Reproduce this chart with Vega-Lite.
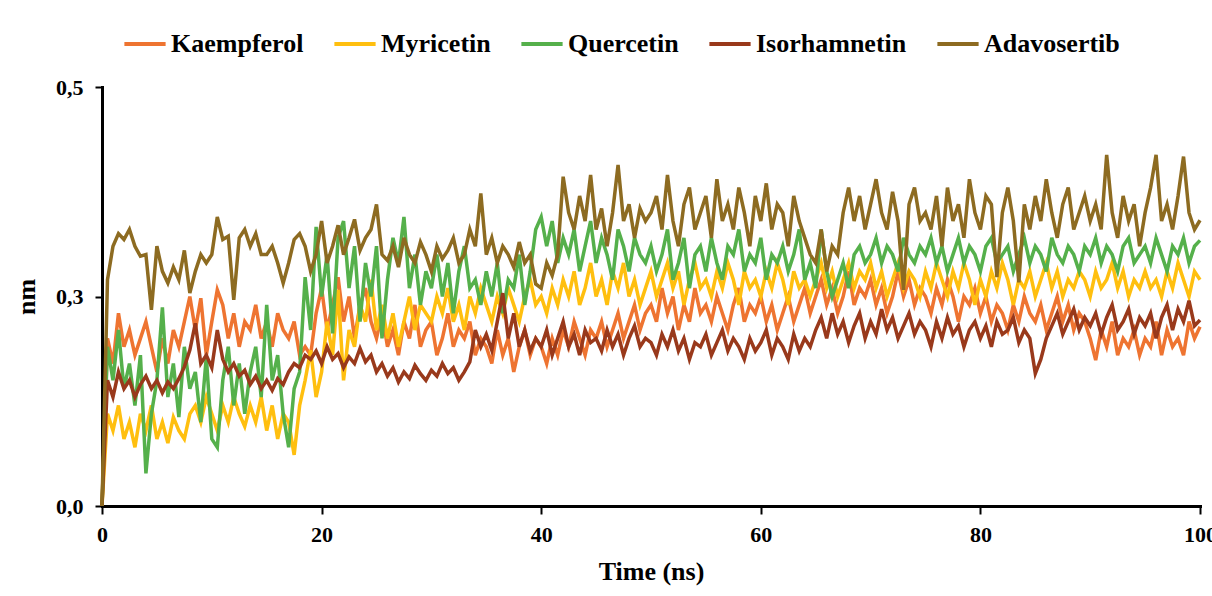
{
"$schema":"https://vega.github.io/schema/vega-lite/v6.json",
"width":1098,"height":419,
"autosize":"none",
"padding":{"left":102,"top":87,"right":12,"bottom":90},
"background":"white",
"datasets":{
"A":[{"t":0,"v":0},{"t":0.5,"v":0.27},{"t":1,"v":0.31},{"t":1.5,"v":0.325},{"t":2,"v":0.318},{"t":2.5,"v":0.33},{"t":3,"v":0.31},{"t":3.5,"v":0.298},{"t":4,"v":0.3},{"t":4.5,"v":0.234},
{"t":5,"v":0.31},{"t":5.5,"v":0.28},{"t":6,"v":0.266},{"t":6.5,"v":0.285},{"t":7,"v":0.27},{"t":7.5,"v":0.305},{"t":8,"v":0.254},{"t":8.5,"v":0.28},{"t":9,"v":0.3},{"t":9.5,"v":0.29},
{"t":10,"v":0.3},{"t":10.5,"v":0.345},{"t":11,"v":0.318},{"t":11.5,"v":0.322},{"t":12,"v":0.246},{"t":12.5,"v":0.32},{"t":13,"v":0.33},{"t":13.5,"v":0.31},{"t":14,"v":0.325},{"t":14.5,"v":0.3},
{"t":15,"v":0.3},{"t":15.5,"v":0.31},{"t":16,"v":0.29},{"t":16.5,"v":0.266},{"t":17,"v":0.29},{"t":17.5,"v":0.318},{"t":18,"v":0.325},{"t":18.5,"v":0.31},{"t":19,"v":0.28},{"t":19.5,"v":0.3},
{"t":20,"v":0.34},{"t":20.5,"v":0.29},{"t":21,"v":0.31},{"t":21.5,"v":0.335},{"t":22,"v":0.3},{"t":22.5,"v":0.32},{"t":23,"v":0.342},{"t":23.5,"v":0.305},{"t":24,"v":0.32},{"t":24.5,"v":0.33},
{"t":25,"v":0.36},{"t":25.5,"v":0.3},{"t":26,"v":0.293},{"t":26.5,"v":0.31},{"t":27,"v":0.285},{"t":27.5,"v":0.32},{"t":28,"v":0.3},{"t":28.5,"v":0.29},{"t":29,"v":0.315},{"t":29.5,"v":0.3},
{"t":30,"v":0.28},{"t":30.5,"v":0.31},{"t":31,"v":0.295},{"t":31.5,"v":0.305},{"t":32,"v":0.32},{"t":32.5,"v":0.29},{"t":33,"v":0.3},{"t":33.5,"v":0.33},{"t":34,"v":0.31},{"t":34.5,"v":0.373},
{"t":35,"v":0.3},{"t":35.5,"v":0.32},{"t":36,"v":0.29},{"t":36.5,"v":0.31},{"t":37,"v":0.3},{"t":37.5,"v":0.285},{"t":38,"v":0.315},{"t":38.5,"v":0.29},{"t":39,"v":0.3},{"t":39.5,"v":0.265},
{"t":40,"v":0.26},{"t":40.5,"v":0.29},{"t":41,"v":0.275},{"t":41.5,"v":0.3},{"t":42,"v":0.393},{"t":42.5,"v":0.35},{"t":43,"v":0.33},{"t":43.5,"v":0.37},{"t":44,"v":0.34},{"t":44.5,"v":0.395},
{"t":45,"v":0.33},{"t":45.5,"v":0.355},{"t":46,"v":0.31},{"t":46.5,"v":0.35},{"t":47,"v":0.407},{"t":47.5,"v":0.34},{"t":48,"v":0.36},{"t":48.5,"v":0.32},{"t":49,"v":0.355},{"t":49.5,"v":0.34},
{"t":50,"v":0.35},{"t":50.5,"v":0.37},{"t":51,"v":0.33},{"t":51.5,"v":0.395},{"t":52,"v":0.34},{"t":52.5,"v":0.31},{"t":53,"v":0.36},{"t":53.5,"v":0.38},{"t":54,"v":0.33},{"t":54.5,"v":0.35},
{"t":55,"v":0.37},{"t":55.5,"v":0.32},{"t":56,"v":0.39},{"t":56.5,"v":0.34},{"t":57,"v":0.36},{"t":57.5,"v":0.33},{"t":58,"v":0.38},{"t":58.5,"v":0.35},{"t":59,"v":0.31},{"t":59.5,"v":0.37},
{"t":60,"v":0.34},{"t":60.5,"v":0.385},{"t":61,"v":0.33},{"t":61.5,"v":0.36},{"t":62,"v":0.35},{"t":62.5,"v":0.31},{"t":63,"v":0.37},{"t":63.5,"v":0.34},{"t":64,"v":0.32},{"t":64.5,"v":0.3},
{"t":65,"v":0.29},{"t":65.5,"v":0.33},{"t":66,"v":0.28},{"t":66.5,"v":0.31},{"t":67,"v":0.3},{"t":67.5,"v":0.35},{"t":68,"v":0.38},{"t":68.5,"v":0.34},{"t":69,"v":0.37},{"t":69.5,"v":0.33},
{"t":70,"v":0.36},{"t":70.5,"v":0.39},{"t":71,"v":0.35},{"t":71.5,"v":0.33},{"t":72,"v":0.375},{"t":72.5,"v":0.34},{"t":73,"v":0.258},{"t":73.5,"v":0.36},{"t":74,"v":0.38},{"t":74.5,"v":0.34},
{"t":75,"v":0.35},{"t":75.5,"v":0.33},{"t":76,"v":0.37},{"t":76.5,"v":0.31},{"t":77,"v":0.38},{"t":77.5,"v":0.34},{"t":78,"v":0.36},{"t":78.5,"v":0.32},{"t":79,"v":0.39},{"t":79.5,"v":0.35},
{"t":80,"v":0.33},{"t":80.5,"v":0.37},{"t":81,"v":0.36},{"t":81.5,"v":0.273},{"t":82,"v":0.35},{"t":82.5,"v":0.38},{"t":83,"v":0.34},{"t":83.5,"v":0.267},{"t":84,"v":0.36},{"t":84.5,"v":0.33},
{"t":85,"v":0.37},{"t":85.5,"v":0.34},{"t":86,"v":0.39},{"t":86.5,"v":0.35},{"t":87,"v":0.32},{"t":87.5,"v":0.36},{"t":88,"v":0.38},{"t":88.5,"v":0.33},{"t":89,"v":0.35},{"t":89.5,"v":0.37},
{"t":90,"v":0.34},{"t":90.5,"v":0.36},{"t":91,"v":0.33},{"t":91.5,"v":0.419},{"t":92,"v":0.35},{"t":92.5,"v":0.32},{"t":93,"v":0.37},{"t":93.5,"v":0.34},{"t":94,"v":0.36},{"t":94.5,"v":0.31},
{"t":95,"v":0.35},{"t":95.5,"v":0.38},{"t":96,"v":0.419},{"t":96.5,"v":0.34},{"t":97,"v":0.36},{"t":97.5,"v":0.33},{"t":98,"v":0.37},{"t":98.5,"v":0.417},{"t":99,"v":0.35},{"t":99.5,"v":0.33},
{"t":100,"v":0.341}],
"Q":[{"t":0,"v":0},{"t":0.5,"v":0.19},{"t":1,"v":0.15},{"t":1.5,"v":0.21},{"t":2,"v":0.14},{"t":2.5,"v":0.17},{"t":3,"v":0.12},{"t":3.5,"v":0.18},{"t":4,"v":0.039},{"t":4.5,"v":0.11},
{"t":5,"v":0.15},{"t":5.5,"v":0.237},{"t":6,"v":0.13},{"t":6.5,"v":0.17},{"t":7,"v":0.106},{"t":7.5,"v":0.19},{"t":8,"v":0.14},{"t":8.5,"v":0.16},{"t":9,"v":0.1},{"t":9.5,"v":0.178},
{"t":10,"v":0.08},{"t":10.5,"v":0.07},{"t":11,"v":0.15},{"t":11.5,"v":0.19},{"t":12,"v":0.12},{"t":12.5,"v":0.17},{"t":13,"v":0.11},{"t":13.5,"v":0.16},{"t":14,"v":0.19},{"t":14.5,"v":0.13},
{"t":15,"v":0.24},{"t":15.5,"v":0.15},{"t":16,"v":0.18},{"t":16.5,"v":0.11},{"t":17,"v":0.07},{"t":17.5,"v":0.14},{"t":18,"v":0.16},{"t":18.5,"v":0.273},{"t":19,"v":0.21},{"t":19.5,"v":0.333},
{"t":20,"v":0.25},{"t":20.5,"v":0.3},{"t":21,"v":0.206},{"t":21.5,"v":0.32},{"t":22,"v":0.34},{"t":22.5,"v":0.26},{"t":23,"v":0.31},{"t":23.5,"v":0.22},{"t":24,"v":0.29},{"t":24.5,"v":0.25},
{"t":25,"v":0.31},{"t":25.5,"v":0.2},{"t":26,"v":0.27},{"t":26.5,"v":0.32},{"t":27,"v":0.29},{"t":27.5,"v":0.345},{"t":28,"v":0.26},{"t":28.5,"v":0.3},{"t":29,"v":0.24},{"t":29.5,"v":0.28},
{"t":30,"v":0.26},{"t":30.5,"v":0.3},{"t":31,"v":0.25},{"t":31.5,"v":0.29},{"t":32,"v":0.23},{"t":32.5,"v":0.28},{"t":33,"v":0.31},{"t":33.5,"v":0.26},{"t":34,"v":0.27},{"t":34.5,"v":0.24},
{"t":35,"v":0.28},{"t":35.5,"v":0.25},{"t":36,"v":0.29},{"t":36.5,"v":0.23},{"t":37,"v":0.27},{"t":37.5,"v":0.26},{"t":38,"v":0.3},{"t":38.5,"v":0.24},{"t":39,"v":0.28},{"t":39.5,"v":0.33},
{"t":40,"v":0.345},{"t":40.5,"v":0.31},{"t":41,"v":0.34},{"t":41.5,"v":0.29},{"t":42,"v":0.32},{"t":42.5,"v":0.3},{"t":43,"v":0.33},{"t":43.5,"v":0.28},{"t":44,"v":0.31},{"t":44.5,"v":0.34},
{"t":45,"v":0.29},{"t":45.5,"v":0.32},{"t":46,"v":0.3},{"t":46.5,"v":0.27},{"t":47,"v":0.33},{"t":47.5,"v":0.31},{"t":48,"v":0.28},{"t":48.5,"v":0.32},{"t":49,"v":0.3},{"t":49.5,"v":0.29},
{"t":50,"v":0.31},{"t":50.5,"v":0.28},{"t":51,"v":0.3},{"t":51.5,"v":0.33},{"t":52,"v":0.27},{"t":52.5,"v":0.29},{"t":53,"v":0.32},{"t":53.5,"v":0.26},{"t":54,"v":0.3},{"t":54.5,"v":0.31},
{"t":55,"v":0.28},{"t":55.5,"v":0.32},{"t":56,"v":0.29},{"t":56.5,"v":0.27},{"t":57,"v":0.31},{"t":57.5,"v":0.3},{"t":58,"v":0.33},{"t":58.5,"v":0.28},{"t":59,"v":0.3},{"t":59.5,"v":0.29},
{"t":60,"v":0.32},{"t":60.5,"v":0.27},{"t":61,"v":0.3},{"t":61.5,"v":0.29},{"t":62,"v":0.31},{"t":62.5,"v":0.28},{"t":63,"v":0.3},{"t":63.5,"v":0.33},{"t":64,"v":0.27},{"t":64.5,"v":0.29},
{"t":65,"v":0.26},{"t":65.5,"v":0.33},{"t":66,"v":0.28},{"t":66.5,"v":0.25},{"t":67,"v":0.27},{"t":67.5,"v":0.29},{"t":68,"v":0.26},{"t":68.5,"v":0.3},{"t":69,"v":0.31},{"t":69.5,"v":0.29},
{"t":70,"v":0.3},{"t":70.5,"v":0.32},{"t":71,"v":0.29},{"t":71.5,"v":0.31},{"t":72,"v":0.3},{"t":72.5,"v":0.28},{"t":73,"v":0.32},{"t":73.5,"v":0.3},{"t":74,"v":0.29},{"t":74.5,"v":0.31},
{"t":75,"v":0.3},{"t":75.5,"v":0.32},{"t":76,"v":0.29},{"t":76.5,"v":0.31},{"t":77,"v":0.28},{"t":77.5,"v":0.3},{"t":78,"v":0.32},{"t":78.5,"v":0.29},{"t":79,"v":0.31},{"t":79.5,"v":0.3},
{"t":80,"v":0.28},{"t":80.5,"v":0.31},{"t":81,"v":0.32},{"t":81.5,"v":0.29},{"t":82,"v":0.3},{"t":82.5,"v":0.31},{"t":83,"v":0.28},{"t":83.5,"v":0.3},{"t":84,"v":0.32},{"t":84.5,"v":0.29},
{"t":85,"v":0.31},{"t":85.5,"v":0.3},{"t":86,"v":0.28},{"t":86.5,"v":0.32},{"t":87,"v":0.3},{"t":87.5,"v":0.29},{"t":88,"v":0.31},{"t":88.5,"v":0.3},{"t":89,"v":0.28},{"t":89.5,"v":0.31},
{"t":90,"v":0.3},{"t":90.5,"v":0.32},{"t":91,"v":0.29},{"t":91.5,"v":0.31},{"t":92,"v":0.3},{"t":92.5,"v":0.28},{"t":93,"v":0.31},{"t":93.5,"v":0.32},{"t":94,"v":0.29},{"t":94.5,"v":0.3},
{"t":95,"v":0.31},{"t":95.5,"v":0.29},{"t":96,"v":0.32},{"t":96.5,"v":0.3},{"t":97,"v":0.28},{"t":97.5,"v":0.31},{"t":98,"v":0.3},{"t":98.5,"v":0.32},{"t":99,"v":0.29},{"t":99.5,"v":0.31},
{"t":100,"v":0.317}],
"K":[{"t":0,"v":0},{"t":0.5,"v":0.2},{"t":1,"v":0.17},{"t":1.5,"v":0.23},{"t":2,"v":0.19},{"t":2.5,"v":0.21},{"t":3,"v":0.18},{"t":3.5,"v":0.2},{"t":4,"v":0.22},{"t":4.5,"v":0.19},
{"t":5,"v":0.16},{"t":5.5,"v":0.2},{"t":6,"v":0.17},{"t":6.5,"v":0.21},{"t":7,"v":0.19},{"t":7.5,"v":0.22},{"t":8,"v":0.25},{"t":8.5,"v":0.21},{"t":9,"v":0.248},{"t":9.5,"v":0.18},
{"t":10,"v":0.22},{"t":10.5,"v":0.258},{"t":11,"v":0.24},{"t":11.5,"v":0.2},{"t":12,"v":0.23},{"t":12.5,"v":0.19},{"t":13,"v":0.22},{"t":13.5,"v":0.21},{"t":14,"v":0.24},{"t":14.5,"v":0.2},
{"t":15,"v":0.22},{"t":15.5,"v":0.19},{"t":16,"v":0.23},{"t":16.5,"v":0.21},{"t":17,"v":0.2},{"t":17.5,"v":0.22},{"t":18,"v":0.18},{"t":18.5,"v":0.19},{"t":19,"v":0.18},{"t":19.5,"v":0.23},
{"t":20,"v":0.26},{"t":20.5,"v":0.21},{"t":21,"v":0.24},{"t":21.5,"v":0.273},{"t":22,"v":0.22},{"t":22.5,"v":0.25},{"t":23,"v":0.2},{"t":23.5,"v":0.24},{"t":24,"v":0.26},{"t":24.5,"v":0.22},
{"t":25,"v":0.2},{"t":25.5,"v":0.23},{"t":26,"v":0.19},{"t":26.5,"v":0.21},{"t":27,"v":0.18},{"t":27.5,"v":0.22},{"t":28,"v":0.2},{"t":28.5,"v":0.24},{"t":29,"v":0.19},{"t":29.5,"v":0.21},
{"t":30,"v":0.22},{"t":30.5,"v":0.18},{"t":31,"v":0.2},{"t":31.5,"v":0.23},{"t":32,"v":0.19},{"t":32.5,"v":0.21},{"t":33,"v":0.2},{"t":33.5,"v":0.22},{"t":34,"v":0.18},{"t":34.5,"v":0.2},
{"t":35,"v":0.19},{"t":35.5,"v":0.17},{"t":36,"v":0.21},{"t":36.5,"v":0.18},{"t":37,"v":0.2},{"t":37.5,"v":0.16},{"t":38,"v":0.19},{"t":38.5,"v":0.21},{"t":39,"v":0.18},{"t":39.5,"v":0.2},
{"t":40,"v":0.19},{"t":40.5,"v":0.17},{"t":41,"v":0.2},{"t":41.5,"v":0.18},{"t":42,"v":0.21},{"t":42.5,"v":0.19},{"t":43,"v":0.22},{"t":43.5,"v":0.2},{"t":44,"v":0.18},{"t":44.5,"v":0.21},
{"t":45,"v":0.2},{"t":45.5,"v":0.22},{"t":46,"v":0.19},{"t":46.5,"v":0.21},{"t":47,"v":0.23},{"t":47.5,"v":0.2},{"t":48,"v":0.22},{"t":48.5,"v":0.24},{"t":49,"v":0.21},{"t":49.5,"v":0.23},
{"t":50,"v":0.24},{"t":50.5,"v":0.22},{"t":51,"v":0.26},{"t":51.5,"v":0.23},{"t":52,"v":0.25},{"t":52.5,"v":0.21},{"t":53,"v":0.24},{"t":53.5,"v":0.22},{"t":54,"v":0.26},{"t":54.5,"v":0.23},
{"t":55,"v":0.24},{"t":55.5,"v":0.22},{"t":56,"v":0.25},{"t":56.5,"v":0.23},{"t":57,"v":0.21},{"t":57.5,"v":0.24},{"t":58,"v":0.26},{"t":58.5,"v":0.22},{"t":59,"v":0.24},{"t":59.5,"v":0.23},
{"t":60,"v":0.25},{"t":60.5,"v":0.22},{"t":61,"v":0.24},{"t":61.5,"v":0.21},{"t":62,"v":0.23},{"t":62.5,"v":0.25},{"t":63,"v":0.22},{"t":63.5,"v":0.24},{"t":64,"v":0.26},{"t":64.5,"v":0.23},
{"t":65,"v":0.25},{"t":65.5,"v":0.27},{"t":66,"v":0.24},{"t":66.5,"v":0.26},{"t":67,"v":0.23},{"t":67.5,"v":0.25},{"t":68,"v":0.28},{"t":68.5,"v":0.24},{"t":69,"v":0.26},{"t":69.5,"v":0.25},
{"t":70,"v":0.27},{"t":70.5,"v":0.24},{"t":71,"v":0.26},{"t":71.5,"v":0.23},{"t":72,"v":0.25},{"t":72.5,"v":0.28},{"t":73,"v":0.25},{"t":73.5,"v":0.27},{"t":74,"v":0.24},{"t":74.5,"v":0.26},
{"t":75,"v":0.25},{"t":75.5,"v":0.23},{"t":76,"v":0.26},{"t":76.5,"v":0.24},{"t":77,"v":0.27},{"t":77.5,"v":0.25},{"t":78,"v":0.22},{"t":78.5,"v":0.25},{"t":79,"v":0.24},{"t":79.5,"v":0.26},
{"t":80,"v":0.23},{"t":80.5,"v":0.25},{"t":81,"v":0.22},{"t":81.5,"v":0.24},{"t":82,"v":0.23},{"t":82.5,"v":0.21},{"t":83,"v":0.24},{"t":83.5,"v":0.22},{"t":84,"v":0.25},{"t":84.5,"v":0.23},
{"t":85,"v":0.22},{"t":85.5,"v":0.24},{"t":86,"v":0.21},{"t":86.5,"v":0.23},{"t":87,"v":0.25},{"t":87.5,"v":0.22},{"t":88,"v":0.24},{"t":88.5,"v":0.21},{"t":89,"v":0.23},{"t":89.5,"v":0.22},
{"t":90,"v":0.2},{"t":90.5,"v":0.174},{"t":91,"v":0.21},{"t":91.5,"v":0.19},{"t":92,"v":0.22},{"t":92.5,"v":0.18},{"t":93,"v":0.2},{"t":93.5,"v":0.19},{"t":94,"v":0.21},{"t":94.5,"v":0.18},
{"t":95,"v":0.2},{"t":95.5,"v":0.19},{"t":96,"v":0.22},{"t":96.5,"v":0.18},{"t":97,"v":0.21},{"t":97.5,"v":0.19},{"t":98,"v":0.2},{"t":98.5,"v":0.18},{"t":99,"v":0.22},{"t":99.5,"v":0.2},
{"t":100,"v":0.214}],
"M":[{"t":0,"v":0},{"t":0.5,"v":0.11},{"t":1,"v":0.09},{"t":1.5,"v":0.12},{"t":2,"v":0.08},{"t":2.5,"v":0.1},{"t":3,"v":0.07},{"t":3.5,"v":0.11},{"t":4,"v":0.09},{"t":4.5,"v":0.12},
{"t":5,"v":0.08},{"t":5.5,"v":0.1},{"t":6,"v":0.075},{"t":6.5,"v":0.106},{"t":7,"v":0.09},{"t":7.5,"v":0.08},{"t":8,"v":0.11},{"t":8.5,"v":0.12},{"t":9,"v":0.1},{"t":9.5,"v":0.13},
{"t":10,"v":0.11},{"t":10.5,"v":0.09},{"t":11,"v":0.12},{"t":11.5,"v":0.1},{"t":12,"v":0.13},{"t":12.5,"v":0.11},{"t":13,"v":0.095},{"t":13.5,"v":0.12},{"t":14,"v":0.1},{"t":14.5,"v":0.13},
{"t":15,"v":0.09},{"t":15.5,"v":0.12},{"t":16,"v":0.08},{"t":16.5,"v":0.11},{"t":17,"v":0.1},{"t":17.5,"v":0.061},{"t":18,"v":0.12},{"t":18.5,"v":0.15},{"t":19,"v":0.186},{"t":19.5,"v":0.13},
{"t":20,"v":0.16},{"t":20.5,"v":0.22},{"t":21,"v":0.18},{"t":21.5,"v":0.258},{"t":22,"v":0.15},{"t":22.5,"v":0.21},{"t":23,"v":0.19},{"t":23.5,"v":0.24},{"t":24,"v":0.22},{"t":24.5,"v":0.27},
{"t":25,"v":0.21},{"t":25.5,"v":0.24},{"t":26,"v":0.2},{"t":26.5,"v":0.23},{"t":27,"v":0.19},{"t":27.5,"v":0.22},{"t":28,"v":0.25},{"t":28.5,"v":0.21},{"t":29,"v":0.24},{"t":29.5,"v":0.23},
{"t":30,"v":0.22},{"t":30.5,"v":0.25},{"t":31,"v":0.23},{"t":31.5,"v":0.26},{"t":32,"v":0.22},{"t":32.5,"v":0.24},{"t":33,"v":0.21},{"t":33.5,"v":0.25},{"t":34,"v":0.23},{"t":34.5,"v":0.26},
{"t":35,"v":0.24},{"t":35.5,"v":0.22},{"t":36,"v":0.25},{"t":36.5,"v":0.23},{"t":37,"v":0.26},{"t":37.5,"v":0.24},{"t":38,"v":0.22},{"t":38.5,"v":0.25},{"t":39,"v":0.27},{"t":39.5,"v":0.24},
{"t":40,"v":0.25},{"t":40.5,"v":0.23},{"t":41,"v":0.26},{"t":41.5,"v":0.24},{"t":42,"v":0.27},{"t":42.5,"v":0.25},{"t":43,"v":0.28},{"t":43.5,"v":0.24},{"t":44,"v":0.26},{"t":44.5,"v":0.29},
{"t":45,"v":0.25},{"t":45.5,"v":0.27},{"t":46,"v":0.24},{"t":46.5,"v":0.28},{"t":47,"v":0.26},{"t":47.5,"v":0.29},{"t":48,"v":0.25},{"t":48.5,"v":0.27},{"t":49,"v":0.24},{"t":49.5,"v":0.26},
{"t":50,"v":0.28},{"t":50.5,"v":0.25},{"t":51,"v":0.27},{"t":51.5,"v":0.29},{"t":52,"v":0.26},{"t":52.5,"v":0.28},{"t":53,"v":0.24},{"t":53.5,"v":0.27},{"t":54,"v":0.29},{"t":54.5,"v":0.26},
{"t":55,"v":0.27},{"t":55.5,"v":0.25},{"t":56,"v":0.28},{"t":56.5,"v":0.26},{"t":57,"v":0.29},{"t":57.5,"v":0.27},{"t":58,"v":0.24},{"t":58.5,"v":0.28},{"t":59,"v":0.26},{"t":59.5,"v":0.27},
{"t":60,"v":0.25},{"t":60.5,"v":0.28},{"t":61,"v":0.26},{"t":61.5,"v":0.29},{"t":62,"v":0.27},{"t":62.5,"v":0.24},{"t":63,"v":0.28},{"t":63.5,"v":0.26},{"t":64,"v":0.27},{"t":64.5,"v":0.25},
{"t":65,"v":0.27},{"t":65.5,"v":0.29},{"t":66,"v":0.26},{"t":66.5,"v":0.28},{"t":67,"v":0.25},{"t":67.5,"v":0.27},{"t":68,"v":0.29},{"t":68.5,"v":0.26},{"t":69,"v":0.28},{"t":69.5,"v":0.27},
{"t":70,"v":0.29},{"t":70.5,"v":0.26},{"t":71,"v":0.28},{"t":71.5,"v":0.25},{"t":72,"v":0.27},{"t":72.5,"v":0.29},{"t":73,"v":0.26},{"t":73.5,"v":0.28},{"t":74,"v":0.27},{"t":74.5,"v":0.25},
{"t":75,"v":0.28},{"t":75.5,"v":0.26},{"t":76,"v":0.29},{"t":76.5,"v":0.27},{"t":77,"v":0.25},{"t":77.5,"v":0.28},{"t":78,"v":0.26},{"t":78.5,"v":0.29},{"t":79,"v":0.27},{"t":79.5,"v":0.24},
{"t":80,"v":0.27},{"t":80.5,"v":0.25},{"t":81,"v":0.28},{"t":81.5,"v":0.26},{"t":82,"v":0.29},{"t":82.5,"v":0.27},{"t":83,"v":0.24},{"t":83.5,"v":0.27},{"t":84,"v":0.26},{"t":84.5,"v":0.28},
{"t":85,"v":0.25},{"t":85.5,"v":0.27},{"t":86,"v":0.29},{"t":86.5,"v":0.26},{"t":87,"v":0.28},{"t":87.5,"v":0.25},{"t":88,"v":0.27},{"t":88.5,"v":0.26},{"t":89,"v":0.28},{"t":89.5,"v":0.27},
{"t":90,"v":0.25},{"t":90.5,"v":0.28},{"t":91,"v":0.26},{"t":91.5,"v":0.27},{"t":92,"v":0.29},{"t":92.5,"v":0.26},{"t":93,"v":0.28},{"t":93.5,"v":0.25},{"t":94,"v":0.27},{"t":94.5,"v":0.26},
{"t":95,"v":0.28},{"t":95.5,"v":0.26},{"t":96,"v":0.27},{"t":96.5,"v":0.25},{"t":97,"v":0.28},{"t":97.5,"v":0.26},{"t":98,"v":0.29},{"t":98.5,"v":0.27},{"t":99,"v":0.25},{"t":99.5,"v":0.28},
{"t":100,"v":0.27}],
"I":[{"t":0,"v":0},{"t":0.5,"v":0.15},{"t":1,"v":0.13},{"t":1.5,"v":0.16},{"t":2,"v":0.14},{"t":2.5,"v":0.15},{"t":3,"v":0.13},{"t":3.5,"v":0.145},{"t":4,"v":0.155},{"t":4.5,"v":0.14},
{"t":5,"v":0.15},{"t":5.5,"v":0.135},{"t":6,"v":0.148},{"t":6.5,"v":0.14},{"t":7,"v":0.152},{"t":7.5,"v":0.166},{"t":8,"v":0.186},{"t":8.5,"v":0.218},{"t":9,"v":0.17},{"t":9.5,"v":0.18},
{"t":10,"v":0.165},{"t":10.5,"v":0.21},{"t":11,"v":0.175},{"t":11.5,"v":0.16},{"t":12,"v":0.17},{"t":12.5,"v":0.155},{"t":13,"v":0.162},{"t":13.5,"v":0.145},{"t":14,"v":0.155},{"t":14.5,"v":0.14},
{"t":15,"v":0.15},{"t":15.5,"v":0.138},{"t":16,"v":0.152},{"t":16.5,"v":0.145},{"t":17,"v":0.16},{"t":17.5,"v":0.17},{"t":18,"v":0.165},{"t":18.5,"v":0.18},{"t":19,"v":0.175},{"t":19.5,"v":0.185},
{"t":20,"v":0.17},{"t":20.5,"v":0.19},{"t":21,"v":0.175},{"t":21.5,"v":0.182},{"t":22,"v":0.165},{"t":22.5,"v":0.178},{"t":23,"v":0.17},{"t":23.5,"v":0.188},{"t":24,"v":0.172},{"t":24.5,"v":0.18},
{"t":25,"v":0.16},{"t":25.5,"v":0.17},{"t":26,"v":0.155},{"t":26.5,"v":0.165},{"t":27,"v":0.148},{"t":27.5,"v":0.16},{"t":28,"v":0.152},{"t":28.5,"v":0.168},{"t":29,"v":0.158},{"t":29.5,"v":0.15},
{"t":30,"v":0.162},{"t":30.5,"v":0.155},{"t":31,"v":0.17},{"t":31.5,"v":0.158},{"t":32,"v":0.165},{"t":32.5,"v":0.15},{"t":33,"v":0.16},{"t":33.5,"v":0.172},{"t":34,"v":0.21},{"t":34.5,"v":0.19},
{"t":35,"v":0.205},{"t":35.5,"v":0.186},{"t":36,"v":0.22},{"t":36.5,"v":0.254},{"t":37,"v":0.2},{"t":37.5,"v":0.23},{"t":38,"v":0.19},{"t":38.5,"v":0.21},{"t":39,"v":0.185},{"t":39.5,"v":0.2},
{"t":40,"v":0.19},{"t":40.5,"v":0.21},{"t":41,"v":0.18},{"t":41.5,"v":0.2},{"t":42,"v":0.22},{"t":42.5,"v":0.19},{"t":43,"v":0.205},{"t":43.5,"v":0.18},{"t":44,"v":0.21},{"t":44.5,"v":0.195},
{"t":45,"v":0.2},{"t":45.5,"v":0.185},{"t":46,"v":0.21},{"t":46.5,"v":0.19},{"t":47,"v":0.205},{"t":47.5,"v":0.18},{"t":48,"v":0.2},{"t":48.5,"v":0.215},{"t":49,"v":0.19},{"t":49.5,"v":0.2},
{"t":50,"v":0.195},{"t":50.5,"v":0.18},{"t":51,"v":0.205},{"t":51.5,"v":0.19},{"t":52,"v":0.21},{"t":52.5,"v":0.185},{"t":53,"v":0.2},{"t":53.5,"v":0.175},{"t":54,"v":0.195},{"t":54.5,"v":0.19},
{"t":55,"v":0.205},{"t":55.5,"v":0.18},{"t":56,"v":0.195},{"t":56.5,"v":0.21},{"t":57,"v":0.185},{"t":57.5,"v":0.2},{"t":58,"v":0.19},{"t":58.5,"v":0.175},{"t":59,"v":0.2},{"t":59.5,"v":0.185},
{"t":60,"v":0.195},{"t":60.5,"v":0.21},{"t":61,"v":0.18},{"t":61.5,"v":0.2},{"t":62,"v":0.19},{"t":62.5,"v":0.175},{"t":63,"v":0.205},{"t":63.5,"v":0.185},{"t":64,"v":0.2},{"t":64.5,"v":0.19},
{"t":65,"v":0.21},{"t":65.5,"v":0.225},{"t":66,"v":0.2},{"t":66.5,"v":0.23},{"t":67,"v":0.205},{"t":67.5,"v":0.22},{"t":68,"v":0.195},{"t":68.5,"v":0.215},{"t":69,"v":0.23},{"t":69.5,"v":0.2},
{"t":70,"v":0.22},{"t":70.5,"v":0.205},{"t":71,"v":0.235},{"t":71.5,"v":0.21},{"t":72,"v":0.225},{"t":72.5,"v":0.2},{"t":73,"v":0.215},{"t":73.5,"v":0.23},{"t":74,"v":0.205},{"t":74.5,"v":0.22},
{"t":75,"v":0.21},{"t":75.5,"v":0.19},{"t":76,"v":0.22},{"t":76.5,"v":0.2},{"t":77,"v":0.225},{"t":77.5,"v":0.205},{"t":78,"v":0.215},{"t":78.5,"v":0.19},{"t":79,"v":0.21},{"t":79.5,"v":0.22},
{"t":80,"v":0.2},{"t":80.5,"v":0.215},{"t":81,"v":0.19},{"t":81.5,"v":0.22},{"t":82,"v":0.205},{"t":82.5,"v":0.21},{"t":83,"v":0.225},{"t":83.5,"v":0.195},{"t":84,"v":0.21},{"t":84.5,"v":0.2},
{"t":85,"v":0.158},{"t":85.5,"v":0.175},{"t":86,"v":0.2},{"t":86.5,"v":0.215},{"t":87,"v":0.23},{"t":87.5,"v":0.205},{"t":88,"v":0.22},{"t":88.5,"v":0.235},{"t":89,"v":0.21},{"t":89.5,"v":0.225},
{"t":90,"v":0.215},{"t":90.5,"v":0.23},{"t":91,"v":0.205},{"t":91.5,"v":0.225},{"t":92,"v":0.24},{"t":92.5,"v":0.21},{"t":93,"v":0.22},{"t":93.5,"v":0.235},{"t":94,"v":0.205},{"t":94.5,"v":0.225},
{"t":95,"v":0.215},{"t":95.5,"v":0.23},{"t":96,"v":0.2},{"t":96.5,"v":0.225},{"t":97,"v":0.24},{"t":97.5,"v":0.21},{"t":98,"v":0.235},{"t":98.5,"v":0.22},{"t":99,"v":0.245},{"t":99.5,"v":0.215},
{"t":100,"v":0.222}]
},
"encoding":{
"x":{"field":"t","type":"quantitative","scale":{"domain":[0,100],"nice":false},
"axis":{"values":[0,20,40,60,80,100],"title":"Time (ns)","grid":false,"tickSize":8,"tickWidth":2,"tickColor":"black","domainColor":"black","domainWidth":3,
"labelFont":"Liberation Serif","labelFontWeight":"bold","labelFontSize":22,"labelColor":"black","labelPadding":10,"labelFlush":false,
"titleFont":"Liberation Serif","titleFontWeight":"bold","titleFontSize":26,"titleColor":"black","titlePadding":13}},
"y":{"field":"v","type":"quantitative","scale":{"domain":[0,0.5],"nice":false},
"axis":{"values":[0,0.25,0.5],"labelExpr":"replace(format(datum.value,'.1f'),'.',',')","title":"nm","grid":false,"tickSize":7,"tickWidth":2,"tickColor":"black","domainColor":"black","domainWidth":3,
"labelFont":"Liberation Serif","labelFontWeight":"bold","labelFontSize":22,"labelColor":"black","labelPadding":12,
"titleFont":"Liberation Serif","titleFontWeight":"bold","titleFontSize":26,"titleColor":"black","titlePadding":16}}
},
"layer":[
{"data":{"name":"K"},"mark":{"type":"line","strokeWidth":3.5},"encoding":{"color":{"datum":"Kaempferol","type":"nominal",
"scale":{"domain":["Kaempferol","Myricetin","Quercetin","Isorhamnetin","Adavosertib"],"range":["#ee7431","#ffbf0f","#55b04b","#99391b","#8d6b21"]},
"legend":{"title":null,"orient":"none","direction":"horizontal","legendX":20,"legendY":-66,"symbolType":"stroke","symbolSize":1700,"symbolStrokeWidth":4,"labelFont":"Liberation Serif","labelFontWeight":"bold","labelFontSize":26,"labelColor":"black","labelOffset":3,"columnPadding":22,"padding":0}}}},
{"data":{"name":"M"},"mark":{"type":"line","strokeWidth":3.5},"encoding":{"color":{"datum":"Myricetin","type":"nominal"}}},
{"data":{"name":"Q"},"mark":{"type":"line","strokeWidth":3.5},"encoding":{"color":{"datum":"Quercetin","type":"nominal"}}},
{"data":{"name":"I"},"mark":{"type":"line","strokeWidth":3.5},"encoding":{"color":{"datum":"Isorhamnetin","type":"nominal"}}},
{"data":{"name":"A"},"mark":{"type":"line","strokeWidth":3.5},"encoding":{"color":{"datum":"Adavosertib","type":"nominal"}}}
],
"config":{"view":{"stroke":null},"axis":{"domainCap":"square"}}
}
